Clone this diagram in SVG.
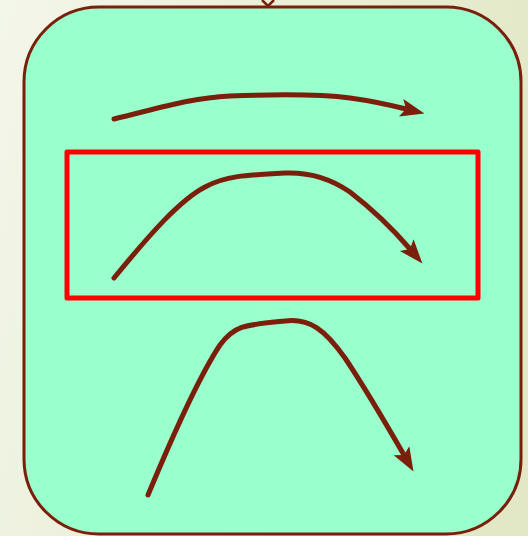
<svg xmlns="http://www.w3.org/2000/svg" width="528" height="536" viewBox="0 0 528 536">
<defs>
<linearGradient id="bg" x1="0" y1="0" x2="1" y2="0.3">
<stop offset="0" stop-color="#f3f6ea"/>
<stop offset="1" stop-color="#e2e8c6"/>
</linearGradient>
<marker id="ah" markerUnits="userSpaceOnUse" markerWidth="26" markerHeight="20" refX="5" refY="9" orient="auto" overflow="visible">
<path d="M0,0 L24,9 L0,18 L5,9 Z" fill="#7a1f0b"/>
</marker>
<style>
.arr{fill:none;stroke:#7a1f0b;stroke-width:5;stroke-linecap:round;stroke-linejoin:round;marker-end:url(#ah)}
</style>
</defs>
<rect x="0" y="0" width="528" height="536" fill="url(#bg)"/>
<g id="container">
<rect x="24" y="7" width="497" height="527" rx="75" ry="75" fill="#99ffcc" stroke="#7a1f0b" stroke-width="3"/>
<path d="M262,0 L268,6 L274,0" fill="none" stroke="#7a1f0b" stroke-width="2.5"/>
</g>
<g id="highlight">
<rect x="67" y="152" width="411" height="146" fill="none" stroke="#ff0000" stroke-width="5" stroke-linejoin="round"/>
</g>
<g id="connectors">
<path class="arr" d="M114,119 C160,108 190,98 230,96 C280,94 320,94 350,98 C372,101 390,105 406,109"/>
<path class="arr" d="M114,278 C150,234 180,200 205,187 C225,176 245,175 285,173 C310,172 330,178 350,192 C372,209 392,228 410,249"/>
<path class="arr" d="M148,495 C175,430 200,375 220,345 C235,325 245,325 285,321 C310,318 325,330 345,358 C365,388 385,422 404,455"/>
</g>
</svg>
